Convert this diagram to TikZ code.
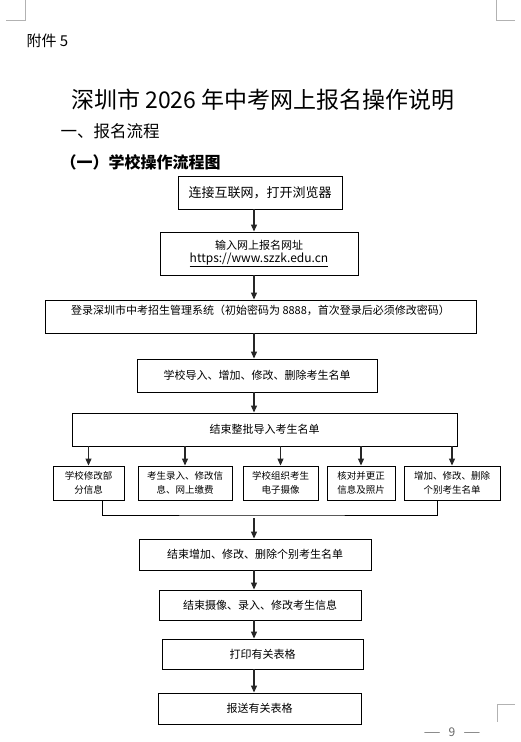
\documentclass[tikz,border=0pt]{standalone}
\usepackage{fontspec}
\newfontfamily\cjk{Noto Sans CJK SC}
\usetikzlibrary{arrows.meta}
\tikzset{
  box/.style={draw, line width=0.9pt, inner sep=0pt, align=center, font=\cjk\fontsize{11}{13}\selectfont},
  rowbox/.style={box, minimum height=34pt, font=\cjk\fontsize{9.5}{14}\selectfont},
  arr/.style={-{Triangle[length=7pt,width=6pt]}, line width=1.1pt, draw=black!85},
  cropmark/.style={draw=black!30, line width=0.8pt}
}
\begin{document}
\begin{tikzpicture}[x=1pt,y=-1pt]
\useasboundingbox (0,0) rectangle (520,742);
\draw[cropmark] (6,20) -- (25,20) -- (25,0);
\draw[cropmark] (515,20) -- (496,20) -- (496,0);
\draw[cropmark] (515,704) -- (497,704) -- (497,722);
\node[anchor=west, font=\cjk\fontsize{15}{18}\selectfont] (att) at (23,41) {附件 5};
\node[font=\cjk\fontsize{23}{26}\selectfont] (title) at (263,100) {深圳市 2026 年中考网上报名操作说明};
\node[anchor=west, font=\cjk\fontsize{16.5}{20}\selectfont] (sec) at (57,131) {一、报名流程};
\node[anchor=west, font=\cjk\bfseries\fontsize{16}{20}\selectfont] (sub) at (57,162) {（一）学校操作流程图};
\node[box, minimum width=164pt, minimum height=33pt, font=\cjk\fontsize{13}{16}\selectfont] (net) at (260,192.5) {连接互联网，打开浏览器};
\node[box, minimum width=198pt, minimum height=43pt] (url) at (259,253.5) {输入网上报名网址\\{\fontsize{12}{13}\selectfont\underline{https://www.szzk.edu.cn}}};
\node[box, minimum width=431pt, minimum height=33pt] (login) at (260.5,316.5) {登录深圳市中考招生管理系统（初始密码为 8888，首次登录后必须修改密码）\\\mbox{}};
\node[box, minimum width=240pt, minimum height=33pt] (imp) at (257,375.5) {学校导入、增加、修改、删除考生名单};
\node[box, minimum width=385pt, minimum height=33pt] (end) at (264.5,429.5) {结束整批导入考生名单};
\node[rowbox, minimum width=71pt] (ra) at (88.5,483) {学校修改部\\分信息};
\node[rowbox, minimum width=94pt] (rb) at (185,483) {考生录入、修改信\\息、网上缴费};
\node[rowbox, minimum width=75pt] (rc) at (280.5,483) {学校组织考生\\电子摄像};
\node[rowbox, minimum width=68pt] (rd) at (361,483) {核对并更正\\信息及照片};
\node[rowbox, minimum width=96pt] (re) at (452,483) {增加、修改、删除\\个别考生名单};
\node[box, minimum width=232pt, minimum height=31pt] (stop) at (255,554.5) {结束增加、修改、删除个别考生名单};
\node[box, minimum width=202pt, minimum height=30pt] (cam) at (260,605) {结束摄像、录入、修改考生信息};
\node[box, minimum width=201pt, minimum height=30pt] (print) at (262.5,654) {打印有关表格};
\node[box, minimum width=203pt, minimum height=31pt] (send) at (259.5,708.5) {报送有关表格};
\node[font=\cjk\fontsize{12}{14}\selectfont, text=black!60] (page) at (452,732) {\scalebox{1.6}[1]{—}\hspace{8pt}9\hspace{8pt}\scalebox{1.6}[1]{—}};
\coordinate (spine) at (254,0);
\coordinate (mid) at (254,515);
\draw[arr] (net.south -| spine) -- (url.north -| spine);
\draw[arr] (url.south -| spine) -- (login.north -| spine);
\draw[arr] (login.south -| spine) -- (imp.north -| spine);
\draw[arr] (imp.south -| spine) -- (end.north -| spine);
\foreach \r in {ra,rb,rc,rd,re}
  \draw[arr] (end.south -| \r) -- (\r.north);
\draw[line width=0.9pt] ([xshift=13.5pt]ra.south) |- (mid) -| ([xshift=-15pt]re.south);
\draw[arr] ([yshift=-3pt]mid) -- (stop.north -| mid);
\draw[arr] (stop.south -| spine) -- (cam.north -| spine);
\draw[arr] (cam.south -| spine) -- (print.north -| spine);
\draw[arr] (print.south -| spine) -- (send.north -| spine);
\end{tikzpicture}
\end{document}
